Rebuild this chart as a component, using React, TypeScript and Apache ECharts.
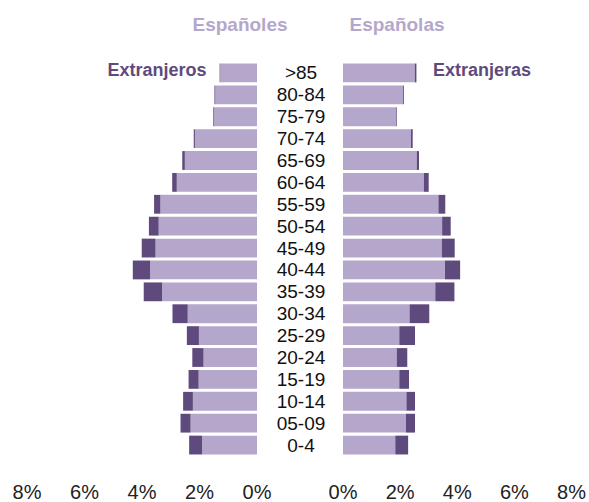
import React, { useEffect, useRef } from "react";
import * as echarts from "echarts";

const ageGroups = ['>85','80-84','75-79','70-74','65-69','60-64','55-59','50-54','45-49','40-44','35-39','30-34','25-29','20-24','15-19','10-14','05-09','0-4'];
const espanoles = [1.28, 1.45, 1.49, 2.16, 2.51, 2.79, 3.36, 3.42, 3.53, 3.72, 3.30, 2.41, 2.02, 1.86, 2.03, 2.23, 2.31, 1.91];
const extranjeros = [0.02, 0.03, 0.03, 0.04, 0.09, 0.16, 0.22, 0.34, 0.48, 0.60, 0.64, 0.53, 0.42, 0.39, 0.35, 0.34, 0.35, 0.45];
const espanolas = [2.51, 2.10, 1.85, 2.38, 2.58, 2.83, 3.34, 3.47, 3.46, 3.57, 3.23, 2.33, 1.97, 1.88, 1.97, 2.22, 2.20, 1.83];
const extranjeras = [0.06, 0.03, 0.03, 0.06, 0.08, 0.17, 0.24, 0.30, 0.45, 0.53, 0.67, 0.69, 0.55, 0.37, 0.34, 0.30, 0.32, 0.45];

const LIGHT = "#b5a7cb";
const DARK = "#5f4a7d";
const FONT = "Liberation Sans, Arial, sans-serif";

export default function App() {
  const ref = useRef<HTMLDivElement>(null);
  useEffect(() => {
    if (!ref.current) return;
    const chart = echarts.init(ref.current, null, { renderer: "svg" });
    const xCommon = {
      type: "value" as const,
      min: 0,
      max: 8,
      interval: 2,
      axisLine: { show: false },
      axisTick: { show: false },
      splitLine: { show: false },
      axisLabel: {
        formatter: (v: number) => `${v}%`,
        fontSize: 20,
        color: "#222",
        fontFamily: FONT,
        margin: 26,
      },
    };
    const yCommon = {
      type: "category" as const,
      data: ageGroups,
      inverse: true,
      axisLine: { show: false },
      axisTick: { show: false },
      splitLine: { show: false },
    };
    chart.setOption({
      animation: false,
      grid: [
        { left: 27, width: 230, top: 62, height: 400 },
        { left: 343, width: 229, top: 62, height: 400 },
      ],
      xAxis: [
        { ...xCommon, gridIndex: 0, inverse: true },
        { ...xCommon, gridIndex: 1 },
      ],
      yAxis: [
        { ...yCommon, gridIndex: 0, axisLabel: { show: false } },
        {
          ...yCommon,
          gridIndex: 1,
          position: "left",
          axisLabel: {
            show: true,
            interval: 0,
            align: "center",
            margin: 42,
            fontSize: 19,
            color: "#111",
            fontFamily: FONT,
          },
        },
      ],
      series: [
        { name: "Españoles", type: "bar", stack: "m", xAxisIndex: 0, yAxisIndex: 0, data: espanoles, itemStyle: { color: LIGHT }, barCategoryGap: "14%" },
        { name: "Extranjeros", type: "bar", stack: "m", xAxisIndex: 0, yAxisIndex: 0, data: extranjeros, itemStyle: { color: DARK }, barCategoryGap: "14%" },
        { name: "Españolas", type: "bar", stack: "f", xAxisIndex: 1, yAxisIndex: 1, data: espanolas, itemStyle: { color: LIGHT }, barCategoryGap: "14%" },
        { name: "Extranjeras", type: "bar", stack: "f", xAxisIndex: 1, yAxisIndex: 1, data: extranjeras, itemStyle: { color: DARK }, barCategoryGap: "14%" },
      ],
      graphic: [
        { type: "text", x: 240, y: 24, style: { text: "Españoles", fill: LIGHT, font: `bold 19px ${FONT}`, align: "center", verticalAlign: "middle" } },
        { type: "text", x: 397, y: 24, style: { text: "Españolas", fill: LIGHT, font: `bold 19px ${FONT}`, align: "center", verticalAlign: "middle" } },
        { type: "text", x: 157, y: 70, style: { text: "Extranjeros", fill: DARK, font: `bold 18px ${FONT}`, align: "center", verticalAlign: "middle" } },
        { type: "text", x: 482, y: 70, style: { text: "Extranjeras", fill: DARK, font: `bold 18px ${FONT}`, align: "center", verticalAlign: "middle" } },
      ],
    });
    return () => chart.dispose();
  }, []);
  return (
    <div
      ref={ref}
      style={{ position: "fixed", left: 0, top: 0, width: 589, height: 502, background: "#fff" }}
    />
  );
}
